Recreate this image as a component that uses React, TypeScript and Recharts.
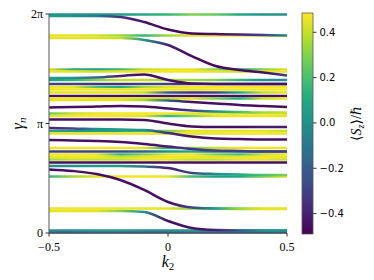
import React from 'react';
import { LineChart, Line, XAxis, YAxis, BarChart, Bar } from 'recharts';

// k2 samples across the Brillouin zone
const K2 = [-0.5, -0.4, -0.3, -0.2, -0.1, 0, 0.1, 0.2, 0.3, 0.4, 0.5];

// Wannier centres gamma_n (units of pi) and <S_z>/hbar at each k2, per band
const gTop = [1.995, 1.995, 1.995, 1.995, 1.995, 1.995, 1.995, 1.995, 1.995, 1.995, 1.995];
const sTop = [0.0, 0.0, 0.0, 0.05, 0.1, 0.15, 0.3, 0.25, 0.1, 0.0, 0.0];
const g35 = [1.804, 1.804, 1.804, 1.804, 1.804, 1.804, 1.804, 1.804, 1.804, 1.804, 1.804];
const s35 = [0.45, 0.45, 0.42, 0.35, 0.15, 0.35, 0.45, 0.47, 0.47, 0.47, 0.45];
const g69 = [1.493, 1.493, 1.493, 1.493, 1.493, 1.493, 1.493, 1.493, 1.493, 1.493, 1.493];
const s69 = [0.45, 0.1, 0.05, 0.15, 0.4, 0.45, 0.45, 0.3, 0.05, 0.3, 0.45];
const g71 = [1.475, 1.475, 1.475, 1.475, 1.475, 1.475, 1.475, 1.475, 1.475, 1.475, 1.475];
const s71 = [0.47, 0.45, 0.4, 0.45, 0.47, 0.47, 0.47, 0.45, 0.4, 0.45, 0.47];
const g80 = [1.397, 1.397, 1.397, 1.397, 1.397, 1.397, 1.397, 1.397, 1.397, 1.397, 1.397];
const s80 = [0.05, 0.15, 0.3, 0.4, 0.4, 0.35, 0.35, 0.3, 0.15, 0.0, 0.0];
const g84 = [1.361, 1.361, 1.361, 1.361, 1.361, 1.361, 1.361, 1.361, 1.361, 1.361, 1.361];
const s84 = [-0.3, -0.3, -0.35, -0.35, -0.3, -0.3, -0.35, -0.35, -0.4, -0.4, -0.4];
const g87 = [1.333, 1.333, 1.333, 1.333, 1.333, 1.333, 1.333, 1.333, 1.333, 1.333, 1.333];
const s87 = [0.47, 0.45, 0.2, 0.1, 0.35, 0.45, 0.47, 0.47, 0.47, 0.47, 0.47];
const g89 = [1.311, 1.311, 1.311, 1.311, 1.311, 1.311, 1.311, 1.311, 1.311, 1.311, 1.311];
const s89 = [0.45, 0.47, 0.47, 0.45, 0.47, 0.47, 0.45, 0.47, 0.47, 0.47, 0.47];
const g92 = [1.283, 1.283, 1.283, 1.283, 1.283, 1.283, 1.283, 1.283, 1.283, 1.283, 1.283];
const s92 = [0.45, 0.45, 0.45, 0.45, 0.4, -0.2, -0.35, -0.3, 0.1, 0.4, 0.45];
const g96 = [1.251, 1.251, 1.251, 1.251, 1.251, 1.251, 1.251, 1.251, 1.251, 1.251, 1.251];
const s96 = [-0.45, -0.45, -0.45, -0.45, -0.45, -0.45, -0.45, -0.45, -0.45, -0.45, -0.45];
const g98 = [1.228, 1.228, 1.228, 1.228, 1.228, 1.228, 1.228, 1.228, 1.228, 1.228, 1.228];
const s98 = [0.47, 0.47, 0.45, 0.45, 0.45, 0.4, 0.45, 0.3, 0.1, 0.4, 0.47];
const g113 = [1.091, 1.091, 1.091, 1.091, 1.091, 1.091, 1.091, 1.091, 1.091, 1.091, 1.091];
const s113 = [0.25, 0.4, 0.45, 0.47, 0.47, 0.47, 0.45, 0.45, 0.45, 0.47, 0.45];
const g116 = [1.068, 1.068, 1.068, 1.068, 1.068, 1.068, 1.068, 1.068, 1.068, 1.068, 1.068];
const s116 = [0.45, 0.47, 0.47, 0.47, 0.45, 0.15, 0.3, 0.45, 0.47, 0.47, 0.45];
const g131 = [0.932, 0.932, 0.932, 0.932, 0.932, 0.932, 0.932, 0.932, 0.932, 0.932, 0.932];
const s131 = [0.1, 0.0, 0.05, 0.1, 0.2, 0.3, 0.45, 0.45, 0.45, 0.45, 0.4];
const g133 = [0.909, 0.909, 0.909, 0.909, 0.909, 0.909, 0.909, 0.909, 0.909, 0.909, 0.909];
const s133 = [0.45, 0.45, 0.45, 0.45, 0.45, 0.45, 0.45, 0.45, 0.47, 0.47, 0.45];
const g148 = [0.776, 0.776, 0.776, 0.776, 0.776, 0.776, 0.776, 0.776, 0.776, 0.776, 0.776];
const s148 = [0.45, 0.47, 0.47, 0.47, 0.45, 0.1, 0.3, 0.4, 0.45, 0.47, 0.45];
const g151 = [0.744, 0.744, 0.744, 0.744, 0.744, 0.744, 0.744, 0.744, 0.744, 0.744, 0.744];
const s151 = [-0.3, -0.3, -0.3, -0.25, -0.2, 0.0, 0.1, -0.1, -0.2, -0.25, -0.3];
const g154 = [0.717, 0.717, 0.717, 0.717, 0.717, 0.717, 0.717, 0.717, 0.717, 0.717, 0.717];
const s154 = [0.47, 0.47, 0.45, 0.15, 0.3, 0.45, 0.47, 0.3, 0.2, 0.4, 0.47];
const g157 = [0.694, 0.694, 0.694, 0.694, 0.694, 0.694, 0.694, 0.694, 0.694, 0.694, 0.694];
const s157 = [0.45, 0.47, 0.47, 0.4, 0.45, 0.47, 0.47, 0.45, 0.45, 0.47, 0.45];
const g159 = [0.671, 0.671, 0.671, 0.671, 0.671, 0.671, 0.671, 0.671, 0.671, 0.671, 0.671];
const s159 = [0.35, 0.4, 0.4, 0.4, 0.45, 0.45, 0.4, 0.4, 0.45, 0.45, 0.4];
const g162 = [0.644, 0.644, 0.644, 0.644, 0.644, 0.644, 0.644, 0.644, 0.644, 0.644, 0.644];
const s162 = [-0.45, -0.45, -0.45, -0.45, -0.45, -0.45, -0.45, -0.45, -0.45, -0.45, -0.45];
const g176 = [0.516, 0.516, 0.516, 0.516, 0.516, 0.516, 0.516, 0.516, 0.516, 0.516, 0.516];
const s176 = [0.15, 0.35, 0.45, 0.47, 0.47, 0.45, 0.2, 0.05, 0.1, 0.3, 0.45];
const g208 = [0.224, 0.224, 0.224, 0.224, 0.224, 0.224, 0.224, 0.224, 0.224, 0.224, 0.224];
const s208 = [0.45, 0.47, 0.47, 0.47, 0.45, 0.45, 0.3, 0.1, 0.3, 0.45, 0.45];
const gBot1 = [0.023, 0.023, 0.023, 0.023, 0.023, 0.023, 0.023, 0.023, 0.023, 0.023, 0.023];
const sBot1 = [0.0, 0.0, 0.05, 0.05, 0.0, 0.0, 0.05, 0.0, -0.05, 0.0, 0.0];
const gBot2 = [0.005, 0.005, 0.005, 0.005, 0.005, 0.005, 0.005, 0.005, 0.005, 0.005, 0.005];
const sBot2 = [-0.2, -0.2, -0.15, -0.15, -0.2, -0.2, -0.15, -0.2, -0.2, -0.2, -0.2];

// bands that flow down one gap across k2 = 0
const gA = [1.982, 1.982, 1.982, 1.973, 1.927, 1.858, 1.822, 1.817, 1.813, 1.808, 1.804];
const sA = [0.05, 0.0, -0.1, -0.35, -0.45, -0.47, -0.47, -0.45, -0.4, -0.3, 0.0];
const gB = [1.781, 1.781, 1.781, 1.781, 1.763, 1.717, 1.616, 1.525, 1.489, 1.466, 1.438];
const sB = [0.45, 0.45, 0.45, 0.4, 0.0, -0.4, -0.47, -0.47, -0.45, -0.45, -0.3];
const gC = [1.416, 1.416, 1.42, 1.434, 1.448, 1.397, 1.365, 1.361, 1.361, 1.361, 1.361];
const sC = [0.05, 0.0, -0.15, -0.4, -0.45, -0.45, -0.45, -0.45, -0.45, -0.45, -0.45];
const gD = [1.215, 1.215, 1.215, 1.215, 1.215, 1.21, 1.196, 1.183, 1.169, 1.16, 1.151];
const sD = [0.45, 0.45, 0.45, 0.45, 0.35, -0.2, -0.45, -0.45, -0.45, -0.45, -0.45];
const gE = [1.146, 1.151, 1.155, 1.16, 1.155, 1.137, 1.119, 1.11, 1.105, 1.1, 1.1];
const sE = [-0.45, -0.45, -0.45, -0.45, -0.45, -0.45, -0.3, 0.0, 0.2, 0.35, 0.4];
const gF1 = [1.037, 1.037, 1.037, 1.037, 1.032, 1.0, 0.973, 0.968, 0.968, 0.968, 0.968];
const sF1 = [-0.45, -0.45, -0.45, -0.45, -0.45, -0.45, -0.45, -0.45, -0.45, -0.42, -0.4];
const gF2 = [0.959, 0.954, 0.95, 0.945, 0.941, 0.913, 0.881, 0.863, 0.858, 0.854, 0.854];
const sF2 = [-0.4, -0.3, 0.0, 0.05, 0.0, -0.35, -0.45, -0.45, -0.45, -0.45, -0.45];
const gG = [0.849, 0.845, 0.84, 0.831, 0.813, 0.79, 0.767, 0.753, 0.749, 0.744, 0.744];
const sG = [-0.45, -0.45, -0.45, -0.45, -0.45, -0.4, -0.35, -0.3, -0.3, -0.3, -0.3];
const gI = [0.612, 0.612, 0.612, 0.612, 0.607, 0.594, 0.548, 0.539, 0.534, 0.53, 0.53];
const sI = [0.0, 0.0, 0.05, 0.05, -0.1, -0.4, -0.3, 0.0, 0.1, 0.2, 0.3];
const gH = [0.58, 0.566, 0.539, 0.484, 0.393, 0.283, 0.233, 0.224, 0.219, 0.219, 0.219];
const sH = [-0.45, -0.45, -0.45, -0.45, -0.45, -0.45, -0.3, 0.05, 0.35, 0.45, 0.45];
const gJ = [0.201, 0.201, 0.201, 0.201, 0.192, 0.11, 0.046, 0.027, 0.023, 0.023, 0.023];
const sJ = [0.45, 0.45, 0.45, 0.3, 0.0, -0.45, -0.45, -0.4, -0.2, 0.0, 0.0];

const GAMMA_TICKS = [0, 1, 2];
const GAMMA_LABELS = ['0', 'π', '2π'];
const K2_TICKS = [-0.5, 0, 0.5];
const SZ_TICKS = [-0.4, -0.2, 0, 0.2, 0.4];
const SZ_MIN = -0.49;
const SZ_MAX = 0.485;

const BANDS = [
  { key: 'top', g: gTop, s: sTop }, { key: 'b35', g: g35, s: s35 },
  { key: 'b69', g: g69, s: s69 }, { key: 'b71', g: g71, s: s71 },
  { key: 'b80', g: g80, s: s80 }, { key: 'b84', g: g84, s: s84 },
  { key: 'b87', g: g87, s: s87 }, { key: 'b89', g: g89, s: s89 },
  { key: 'b92', g: g92, s: s92 }, { key: 'b96', g: g96, s: s96 },
  { key: 'b98', g: g98, s: s98 }, { key: 'b113', g: g113, s: s113 },
  { key: 'b116', g: g116, s: s116 }, { key: 'b131', g: g131, s: s131 },
  { key: 'b133', g: g133, s: s133 }, { key: 'b148', g: g148, s: s148 },
  { key: 'b151', g: g151, s: s151 }, { key: 'b154', g: g154, s: s154 },
  { key: 'b157', g: g157, s: s157 }, { key: 'b159', g: g159, s: s159 },
  { key: 'b162', g: g162, s: s162 }, { key: 'b176', g: g176, s: s176 },
  { key: 'b208', g: g208, s: s208 }, { key: 'bot1', g: gBot1, s: sBot1 },
  { key: 'bot2', g: gBot2, s: sBot2 },
  { key: 'fA', g: gA, s: sA }, { key: 'fB', g: gB, s: sB },
  { key: 'fC', g: gC, s: sC }, { key: 'fD', g: gD, s: sD },
  { key: 'fE', g: gE, s: sE }, { key: 'fF1', g: gF1, s: sF1 },
  { key: 'fF2', g: gF2, s: sF2 }, { key: 'fG', g: gG, s: sG },
  { key: 'fI', g: gI, s: sI }, { key: 'fH', g: gH, s: sH },
  { key: 'fJ', g: gJ, s: sJ },
];

const data = K2.map((k, j) => {
  const row: Record<string, number> = { k };
  BANDS.forEach((b) => { row[b.key] = b.g[j]; });
  return row;
});

const VIRIDIS = ['#440154', '#482475', '#414487', '#355f8d', '#2a788e', '#21918c', '#22a884', '#44bf70', '#7ad151', '#bddf26', '#fde725'];

const hexToRgb = (h: string) => [1, 3, 5].map((i) => parseInt(h.slice(i, i + 2), 16));

const viridis = (t: number) => {
  const c = Math.min(1, Math.max(0, t)) * (VIRIDIS.length - 1);
  const i = Math.min(VIRIDIS.length - 2, Math.floor(c));
  const f = c - i;
  const a = hexToRgb(VIRIDIS[i]);
  const b = hexToRgb(VIRIDIS[i + 1]);
  const rgb = a.map((v, n) => Math.round(v + (b[n] - v) * f));
  return `rgb(${rgb[0]},${rgb[1]},${rgb[2]})`;
};

const szColor = (s: number) => viridis((s - SZ_MIN) / (SZ_MAX - SZ_MIN));

const W = 300;
const H = 280;
const MARGIN = { top: 14, right: 13, bottom: 0, left: 0 };
const Y_AXIS_W = 49;
const X_AXIS_H = 47;
const PLOT_LEFT = MARGIN.left + Y_AXIS_W;
const PLOT_RIGHT = W - MARGIN.right;

const SERIF = '"Liberation Serif", "DejaVu Serif", serif';
const SPINE = '#555';

const GammaLabel = ({ viewBox }: any) => {
  const x = (viewBox?.x ?? 0) + 23;
  const y = (viewBox?.y ?? 14) + (viewBox?.height ?? 219) / 2;
  return (
    <text x={x} y={y} transform={`rotate(-90 ${x} ${y})`} textAnchor="middle" fontFamily={SERIF} fontSize={16} fill="#000">
      <tspan fontStyle="italic">γ</tspan>
      <tspan fontStyle="italic" fontSize={11} dy={3}>n</tspan>
    </text>
  );
};

const K2Label = ({ viewBox }: any) => {
  const x = (viewBox?.x ?? 49) + (viewBox?.width ?? 238) / 2;
  const y = (viewBox?.y ?? 233) + 34;
  return (
    <text x={x} y={y} textAnchor="middle" fontFamily={SERIF} fontSize={16} fill="#000">
      <tspan fontStyle="italic">k</tspan>
      <tspan fontSize={11} dy={3}>2</tspan>
    </text>
  );
};

const SzLabel = ({ viewBox }: any) => {
  const x = (viewBox?.x ?? 313) + (viewBox?.width ?? 61) - 13;
  const y = (viewBox?.y ?? 13) + (viewBox?.height ?? 221) / 2;
  return (
    <text x={x} y={y} transform={`rotate(-90 ${x} ${y})`} textAnchor="middle" fontFamily={SERIF} fontSize={14} fill="#000">
      ⟨<tspan fontStyle="italic">S</tspan>
      <tspan fontStyle="italic" fontSize={10} dy={3}>z</tspan>
      <tspan dy={-3}>⟩/</tspan>
      <tspan fontStyle="italic">ℏ</tspan>
    </text>
  );
};

const fmtK = (v: number) => (v === 0 ? '0' : String(v).replace('-', '\u2212'));
const fmtSz = (v: number) => v.toFixed(1).replace('-', '\u2212');

const WannierChart = () => (
  <LineChart width={W} height={H} data={data} margin={MARGIN}>
    <defs>
      {BANDS.map((b) => (
        <linearGradient key={b.key} id={`grad-${b.key}`} gradientUnits="userSpaceOnUse" x1={PLOT_LEFT} x2={PLOT_RIGHT} y1={0} y2={0}>
          {b.s.map((s, j) => (
            <stop key={j} offset={(K2[j] - K2[0]) / (K2[K2.length - 1] - K2[0])} stopColor={szColor(s)} />
          ))}
        </linearGradient>
      ))}
    </defs>
    <XAxis
      dataKey="k"
      type="number"
      domain={[-0.5, 0.5]}
      ticks={K2_TICKS}
      interval={0}
      tickFormatter={fmtK}
      height={X_AXIS_H}
      tickSize={3.5}
      tickMargin={6}
      axisLine={{ stroke: SPINE }}
      tickLine={{ stroke: '#333' }}
      tick={{ fill: '#000', fontSize: 12, fontFamily: SERIF }}
      label={(p: any) => <K2Label {...p} />}
    />
    <XAxis xAxisId="top" orientation="top" dataKey="k" type="number" domain={[-0.5, 0.5]} height={0} tick={false} tickLine={false} axisLine={{ stroke: SPINE }} />
    <YAxis
      type="number"
      domain={[0, 2]}
      ticks={GAMMA_TICKS}
      interval={0}
      tickFormatter={(v: number) => GAMMA_LABELS[GAMMA_TICKS.indexOf(v)]}
      width={Y_AXIS_W}
      tickSize={3.5}
      tickMargin={2.5}
      axisLine={{ stroke: SPINE }}
      tickLine={{ stroke: '#333' }}
      tick={{ fill: '#000', fontSize: 12, fontFamily: SERIF }}
      label={(p: any) => <GammaLabel {...p} />}
    />
    <YAxis yAxisId="right" orientation="right" type="number" domain={[0, 2]} width={0} tick={false} tickLine={false} axisLine={{ stroke: SPINE }} />
    {BANDS.map((b) => (
      <Line
        key={b.key}
        dataKey={b.key}
        type="monotone"
        stroke={`url(#grad-${b.key})`}
        strokeWidth={2.5}
        dot={false}
        activeDot={false}
        isAnimationActive={false}
      />
    ))}
  </LineChart>
);

const cbData = [{ name: 'sz', range: [SZ_MIN, SZ_MAX] }];

const ColorBar = () => (
  <BarChart width={74} height={H} data={cbData} margin={{ top: 13, right: 0, bottom: 46, left: 2 }} barCategoryGap={0}>
    <defs>
      <linearGradient id="cbar" x1={0} y1={0} x2={0} y2={1}>
        {VIRIDIS.map((c, i) => (
          <stop key={i} offset={i / (VIRIDIS.length - 1)} stopColor={VIRIDIS[VIRIDIS.length - 1 - i]} />
        ))}
      </linearGradient>
    </defs>
    <XAxis dataKey="name" hide />
    <YAxis
      orientation="right"
      type="number"
      domain={[SZ_MIN, SZ_MAX]}
      ticks={SZ_TICKS}
      interval={0}
      tickFormatter={fmtSz}
      width={61}
      tickSize={3.5}
      tickMargin={3}
      axisLine={false}
      tickLine={{ stroke: '#333' }}
      tick={{ fill: '#000', fontSize: 10, fontFamily: '"DejaVu Sans", sans-serif' }}
      label={(p: any) => <SzLabel {...p} />}
    />
    <Bar dataKey="range" fill="url(#cbar)" stroke={SPINE} strokeWidth={0.8} isAnimationActive={false} />
  </BarChart>
);

export default function App() {
  return (
    <div style={{ position: 'absolute', left: 0, top: 0, width: 374, height: 280, background: '#fff' }}>
      <div style={{ position: 'absolute', left: 0, top: 0 }}>
        <WannierChart />
      </div>
      <div style={{ position: 'absolute', left: 300, top: 0 }}>
        <ColorBar />
      </div>
    </div>
  );
}
